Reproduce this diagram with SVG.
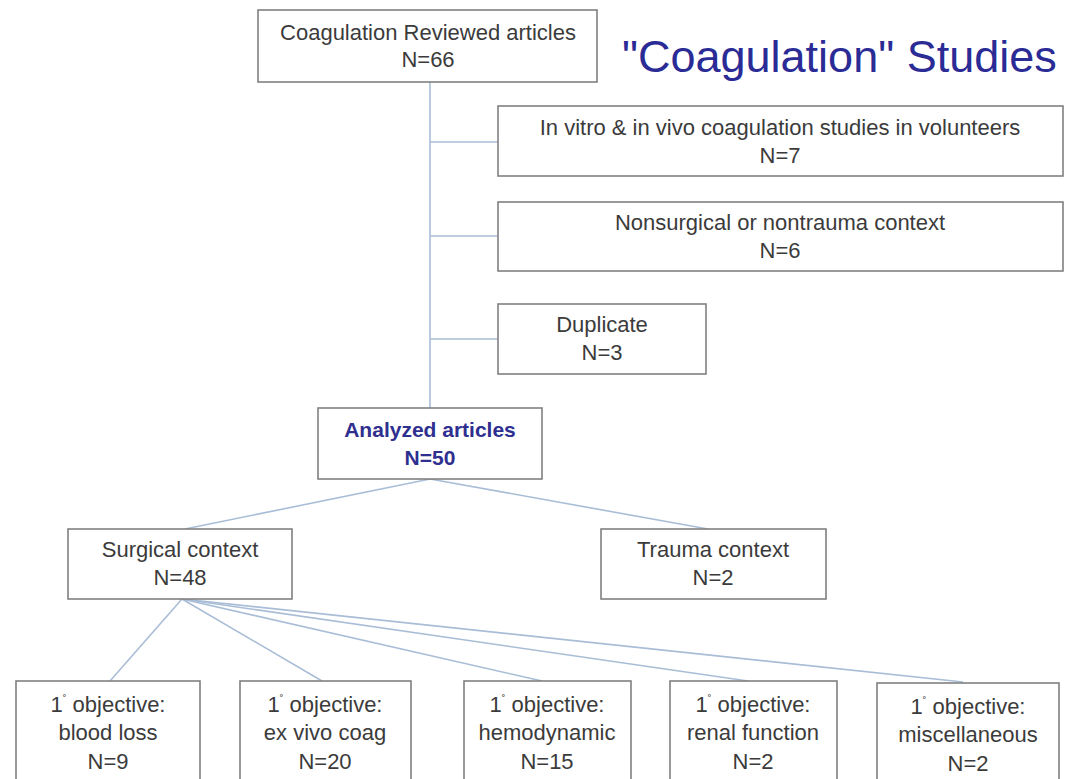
<svg xmlns="http://www.w3.org/2000/svg" width="1065" height="779" viewBox="0 0 1065 779">
<style>
.box{fill:#ffffff;stroke:#808080;stroke-width:1.6}
.t{font-family:"Liberation Sans",Arial,sans-serif;font-size:22px;fill:#3b3b3b;text-anchor:middle}
.tb{font-family:"Liberation Sans",Arial,sans-serif;font-size:21px;font-weight:bold;fill:#2f2f8f;text-anchor:middle}
.title{font-family:"Liberation Sans",Arial,sans-serif;font-size:45px;fill:#2b2b96}
.c{stroke:#a9bdd6;stroke-width:1.6;fill:none}
.sup{font-size:11px}
</style>
<rect width="1065" height="779" fill="#ffffff"/>
<g id="connectors">
<line class="c" x1="430" y1="82" x2="430" y2="408"/>
<line class="c" x1="430" y1="142" x2="498" y2="142"/>
<line class="c" x1="430" y1="236" x2="498" y2="236"/>
<line class="c" x1="430" y1="339" x2="498" y2="339"/>
<line class="c" x1="430" y1="479" x2="185" y2="529"/>
<line class="c" x1="430" y1="479" x2="708" y2="529"/>
<line class="c" x1="182" y1="599" x2="110" y2="681"/>
<line class="c" x1="182" y1="599" x2="322" y2="681"/>
<line class="c" x1="182" y1="599" x2="542" y2="681"/>
<line class="c" x1="182" y1="599" x2="748" y2="681"/>
<line class="c" x1="182" y1="599" x2="963" y2="682"/>
</g>
<text class="title" x="622" y="72">"Coagulation" Studies</text>
<g id="reviewed">
<rect class="box" x="258" y="10" width="339" height="72"/>
<text class="t" x="428" y="40">Coagulation Reviewed articles</text>
<text class="t" x="428" y="67">N=66</text>
</g>
<g id="invitro">
<rect class="box" x="498" y="106" width="565" height="70"/>
<text class="t" x="780" y="135">In vitro &amp; in vivo coagulation studies in volunteers</text>
<text class="t" x="780" y="163">N=7</text>
</g>
<g id="nonsurgical">
<rect class="box" x="498" y="202" width="565" height="69"/>
<text class="t" x="780" y="230">Nonsurgical or nontrauma context</text>
<text class="t" x="780" y="258">N=6</text>
</g>
<g id="duplicate">
<rect class="box" x="498" y="304" width="208" height="70"/>
<text class="t" x="602" y="332">Duplicate</text>
<text class="t" x="602" y="360">N=3</text>
</g>
<g id="analyzed">
<rect class="box" x="318" y="408" width="224" height="71"/>
<text class="tb" x="430" y="437">Analyzed articles</text>
<text class="tb" x="430" y="465">N=50</text>
</g>
<g id="surgical">
<rect class="box" x="68" y="529" width="224" height="70"/>
<text class="t" x="180" y="557">Surgical context</text>
<text class="t" x="180" y="585">N=48</text>
</g>
<g id="trauma">
<rect class="box" x="601" y="529" width="225" height="70"/>
<text class="t" x="713" y="557">Trauma context</text>
<text class="t" x="713" y="585">N=2</text>
</g>
<g id="bloodloss">
<rect class="box" x="16" y="681" width="184" height="110"/>
<text class="t" x="108" y="712">1<tspan class="sup" dy="-9">˚</tspan><tspan dy="9"> objective:</tspan></text>
<text class="t" x="108" y="740">blood loss</text>
<text class="t" x="108" y="769">N=9</text>
</g>
<g id="exvivo">
<rect class="box" x="240" y="681" width="171" height="110"/>
<text class="t" x="325" y="712">1<tspan class="sup" dy="-9">˚</tspan><tspan dy="9"> objective:</tspan></text>
<text class="t" x="325" y="740">ex vivo coag</text>
<text class="t" x="325" y="769">N=20</text>
</g>
<g id="hemodynamic">
<rect class="box" x="464" y="681" width="167" height="110"/>
<text class="t" x="547" y="712">1<tspan class="sup" dy="-9">˚</tspan><tspan dy="9"> objective:</tspan></text>
<text class="t" x="547" y="740">hemodynamic</text>
<text class="t" x="547" y="769">N=15</text>
</g>
<g id="renal">
<rect class="box" x="670" y="681" width="167" height="110"/>
<text class="t" x="753" y="712">1<tspan class="sup" dy="-9">˚</tspan><tspan dy="9"> objective:</tspan></text>
<text class="t" x="753" y="740">renal function</text>
<text class="t" x="753" y="769">N=2</text>
</g>
<g id="misc">
<rect class="box" x="877" y="683" width="182" height="110"/>
<text class="t" x="968" y="714">1<tspan class="sup" dy="-9">˚</tspan><tspan dy="9"> objective:</tspan></text>
<text class="t" x="968" y="742">miscellaneous</text>
<text class="t" x="968" y="771">N=2</text>
</g>
</svg>
